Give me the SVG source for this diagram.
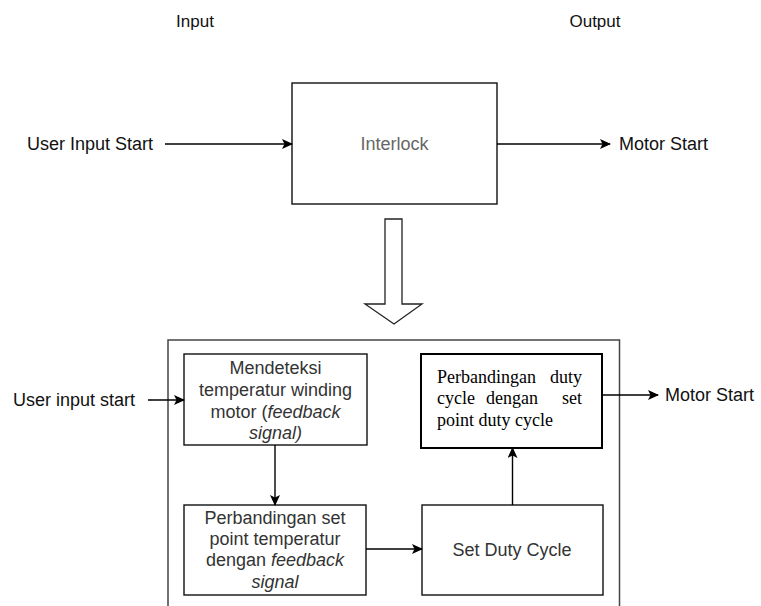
<svg xmlns="http://www.w3.org/2000/svg" width="761" height="606" viewBox="0 0 761 606">
<style>
.lbl{font-family:"Liberation Sans",Arial,sans-serif;font-size:18px;fill:#111}
.hd{font-family:"Liberation Sans",Arial,sans-serif;font-size:17px;fill:#111;text-anchor:middle}
.bt{font-family:"Liberation Sans",Arial,sans-serif;font-size:18px;fill:#333;text-anchor:middle}
.tm{font-family:"Liberation Serif","Times New Roman",serif;font-size:18px;fill:#000}
.box{fill:#fff;stroke:#111;stroke-width:1.4}
.ln{fill:none;stroke:#000;stroke-width:1.4}
</style>
<defs>
<marker id="ah" viewBox="0 0 11 10" refX="10" refY="5" markerWidth="11" markerHeight="10" markerUnits="userSpaceOnUse" orient="auto">
<path d="M0,0 L11,5 L0,10 L2.5,5 z" fill="#000"/>
</marker>
</defs>
<rect width="761" height="606" fill="#fff"/>
<text class="hd" x="195" y="27">Input</text>
<text class="hd" x="595" y="27">Output</text>
<text class="lbl" x="27" y="150">User Input Start</text>
<text class="lbl" x="619" y="150">Motor Start</text>
<text class="lbl" x="13" y="406">User input start</text>
<text class="lbl" x="665" y="401">Motor Start</text>
<g id="interlock">
<rect class="box" x="292" y="83" width="205" height="121"/>
<text x="394.5" y="150" style="font-family:'Liberation Sans',Arial,sans-serif;font-size:18px;fill:#666" text-anchor="middle">Interlock</text>
</g>
<g id="blockarrow">
<polygon points="385,219 402,219 402,304 422,304 394,324 365,304 385,304" fill="#fff" stroke="#222" stroke-width="1.3"/>
</g>
<g id="container">
<path d="M168,612 V340 H619.5 V612" fill="none" stroke="#444" stroke-width="1.5"/>
</g>
<g id="deteksi">
<rect class="box" x="184" y="354" width="183" height="91"/>
<text class="bt" x="275.5" y="374">Mendeteksi</text>
<text class="bt" x="275.5" y="396">temperatur winding</text>
<text class="bt" x="275.5" y="418">motor (<tspan font-style="italic">feedback</tspan></text>
<text class="bt" x="275.5" y="439"><tspan font-style="italic">signal)</tspan></text>
</g>
<g id="banding-set">
<rect class="box" x="184" y="505" width="182" height="90"/>
<text class="bt" x="275" y="524">Perbandingan set</text>
<text class="bt" x="275" y="545">point temperatur</text>
<text class="bt" x="275" y="566">dengan <tspan font-style="italic">feedback</tspan></text>
<text class="bt" x="275" y="588"><tspan font-style="italic">signal</tspan></text>
</g>
<g id="setduty">
<rect class="box" x="422" y="505" width="181" height="90"/>
<text class="bt" x="512" y="556">Set Duty Cycle</text>
</g>
<g id="banding-duty">
<rect x="421" y="354" width="181" height="94" fill="#fff" stroke="#000" stroke-width="2"/>
<text class="tm" x="437" y="383">Perbandingan</text>
<text class="tm" x="582" y="383" text-anchor="end">duty</text>
<text class="tm" x="437" y="404">cycle</text>
<text class="tm" x="486" y="404">dengan</text>
<text class="tm" x="582" y="404" text-anchor="end">set</text>
<text class="tm" x="437" y="426">point duty cycle</text>
</g>
<g id="connectors">
<line class="ln" x1="165" y1="144" x2="292" y2="144" marker-end="url(#ah)"/>
<line class="ln" x1="497" y1="144" x2="610" y2="144" marker-end="url(#ah)"/>
<line class="ln" x1="148" y1="400" x2="184" y2="400" marker-end="url(#ah)"/>
<line class="ln" x1="602" y1="395" x2="658" y2="395" marker-end="url(#ah)"/>
<line class="ln" x1="275" y1="445" x2="275" y2="505" marker-end="url(#ah)"/>
<line class="ln" x1="366" y1="549" x2="422" y2="549" marker-end="url(#ah)"/>
<line class="ln" x1="512.5" y1="505" x2="512.5" y2="448" marker-end="url(#ah)"/>
</g>
</svg>
